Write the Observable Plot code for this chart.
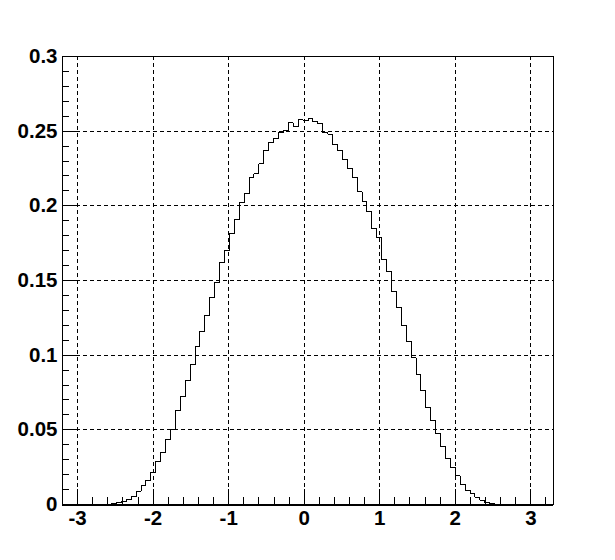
<!DOCTYPE html>
<html>
<head>
<meta charset="utf-8">
<script src="https://cdn.jsdelivr.net/npm/d3@7"></script>
<script src="https://cdn.jsdelivr.net/npm/@observablehq/plot@0.6"></script>
<style>
  html, body { margin: 0; padding: 0; background: #ffffff; }
  #chart svg { display: block; shape-rendering: crispEdges; }
</style>
</head>
<body>
<div id="chart"></div>
<script>
// Histogram definition: 100 bins from -3.2 to 3.3
const binLow = -3.2;
const binWidth = 0.065;
const binContents = [
  0, 0, 0, 0, 0, 0, 0, 0, 0, 0,
  0.0006, 0.0013, 0.0023, 0.0033, 0.0056, 0.0090, 0.0124, 0.0163, 0.0216, 0.0286,
  0.0346, 0.0433, 0.0502, 0.0628, 0.0724, 0.0830, 0.0937, 0.1058, 0.1158, 0.1265,
  0.1385, 0.1484, 0.1619, 0.1699, 0.1814, 0.1906, 0.2020, 0.2082, 0.2187, 0.2216,
  0.2281, 0.2368, 0.2422, 0.2449, 0.2489, 0.2505, 0.2555, 0.2529, 0.2575, 0.2569,
  0.2588, 0.2564, 0.2548, 0.2488, 0.2481, 0.2410, 0.2372, 0.2312, 0.2253, 0.2192,
  0.2094, 0.2027, 0.1960, 0.1846, 0.1786, 0.1639, 0.1560, 0.1425, 0.1318, 0.1198,
  0.1091, 0.0984, 0.0872, 0.0763, 0.0649, 0.0560, 0.0473, 0.0386, 0.0306, 0.0246,
  0.0191, 0.0136, 0.0097, 0.0076, 0.0049, 0.0030, 0.0015, 0.0007, 0, 0,
  0, 0, 0, 0, 0, 0, 0, 0, 0, 0
];

const xDomain = [-3.2, 3.3];
const yDomain = [0, 0.3];

const xMajorTicks = [-3, -2, -1, 0, 1, 2, 3];
const xTickLabels = ["-3", "-2", "-1", "0", "1", "2", "3"];
const xMinorTicks = [-3.2, -2.8, -2.6, -2.4, -2.2, -1.8, -1.6, -1.4, -1.2,
  -0.8, -0.6, -0.4, -0.2, 0.2, 0.4, 0.6, 0.8, 1.2, 1.4, 1.6, 1.8,
  2.2, 2.4, 2.6, 2.8, 3.2];

const yMajorTicks = [0, 0.05, 0.1, 0.15, 0.2, 0.25, 0.3];
const yTickLabels = ["0", "0.05", "0.1", "0.15", "0.2", "0.25", "0.3"];
const yMinorTicks = [0.01, 0.02, 0.03, 0.04, 0.06, 0.07, 0.08, 0.09,
  0.11, 0.12, 0.13, 0.14, 0.16, 0.17, 0.18, 0.19,
  0.21, 0.22, 0.23, 0.24, 0.26, 0.27, 0.28, 0.29];

// Build the step outline table (bin low edges + closing edge)
const steps = binContents.map((v, i) => ({x: binLow + i * binWidth, y: v}));
steps.push({x: binLow + binContents.length * binWidth, y: binContents[binContents.length - 1]});

const gridDash = "4,3";

const chart = Plot.plot({
  width: 615,
  height: 560,
  marginTop: 56,
  marginBottom: 56,
  marginLeft: 62,
  marginRight: 62,
  x: {domain: xDomain},
  y: {domain: yDomain},
  style: {
    fontFamily: "'Liberation Sans', Arial, Helvetica, sans-serif",
    fontSize: "20px",
    fontWeight: "bold",
    background: "#ffffff",
    color: "#000000",
    overflow: "visible"
  },
  marks: [
    Plot.gridX(xMajorTicks, {stroke: "#000", strokeOpacity: 1, strokeWidth: 1, strokeDasharray: gridDash}),
    Plot.gridY(yMajorTicks, {stroke: "#000", strokeOpacity: 1, strokeWidth: 1, strokeDasharray: gridDash}),
    Plot.lineY(steps, {x: "x", y: "y", curve: "step-after", stroke: "#000", strokeWidth: 1}),
    // inward ticks
    Plot.axisX(xMinorTicks, {tickSize: -7, fill: "none", label: null, stroke: "#000"}),
    Plot.axisX(xMajorTicks, {tickSize: -15, fill: "none", label: null, stroke: "#000"}),
    Plot.axisY(yMinorTicks, {tickSize: -7, fill: "none", label: null, stroke: "#000"}),
    Plot.axisY(yMajorTicks, {tickSize: -14, fill: "none", label: null, stroke: "#000"}),
    // tick labels
    Plot.axisX(xMajorTicks, {tickSize: 0, tickPadding: 6, label: null, fill: "#000",
      fontSize: 20.5, fontWeight: "bold",
      tickFormat: d => xTickLabels[xMajorTicks.indexOf(d)]}),
    Plot.axisY(yMajorTicks, {tickSize: 0, tickPadding: 5, label: null, fill: "#000",
      fontSize: 20.5, fontWeight: "bold",
      tickFormat: d => yTickLabels[yMajorTicks.indexOf(d)]}),
    Plot.frame({stroke: "#000", strokeWidth: 1}),
    // the bottom axis line carries the histogram's zero contour as well
    Plot.ruleY([0], {stroke: "#000", strokeWidth: 2})
  ]
});

document.getElementById("chart").appendChild(chart);
</script>
</body>
</html>
